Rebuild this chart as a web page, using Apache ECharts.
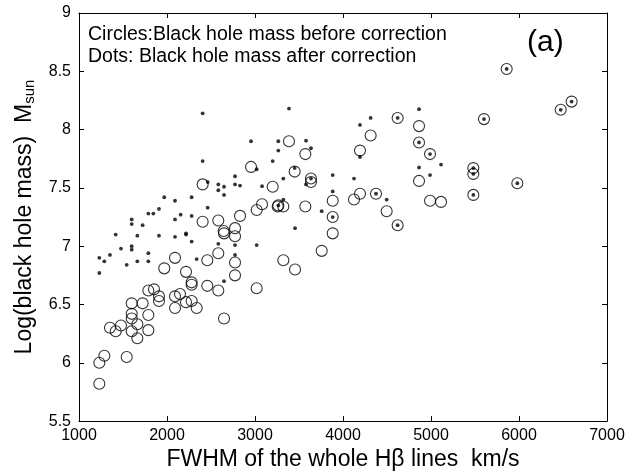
<!DOCTYPE html>
<html>
<head>
<meta charset="utf-8">
<script src="https://cdn.jsdelivr.net/npm/echarts@6/dist/echarts.min.js"></script>
<style>
html,body{margin:0;padding:0;background:#fff;}
#chart{width:631px;height:476px;}
</style>
</head>
<body>
<div id="chart"></div>
<script>
// Circles: black hole mass before correction  [FWHM km/s, log M]
const circlesBefore = [
  [1231,5.82],[1231,6.00],[1288,6.06],[1542,6.05],[1352,6.30],[1417,6.27],[1477,6.32],
  [1599,6.27],[1663,6.21],[1599,6.38],[1599,6.42],[1663,6.33],[1788,6.28],[1788,6.41],
  [1599,6.51],[1723,6.51],[1788,6.62],[1852,6.63],[1909,6.57],[1909,6.53],[1969,6.81],
  [2091,6.57],[2091,6.47],[2148,6.59],[2216,6.52],[2280,6.53],[2280,6.69],[2280,6.67],
  [2337,6.47],[2216,6.78],[2091,6.90],[2458,6.88],[2405,7.21],[2583,7.22],[2644,7.13],
  [2648,7.11],[2773,7.155],[2773,7.085],[2830,7.26],[2583,6.94],[2458,6.66],[2773,6.86],
  [2773,6.75],[2583,6.62],[3019,6.64],[2648,6.38],[3322,6.88],[3455,6.80],[3758,6.96],
  [3883,7.11],[3883,7.25],[2405,7.53],[2955,7.68],[3386,7.90],[3572,7.79],[3451,7.64],
  [3636,7.58],[3636,7.55],[3201,7.51],[3080,7.36],[3019,7.31],[3265,7.35],[3258,7.34],
  [3322,7.34],[3572,7.34],[3883,7.39],[4621,8.10],[4864,8.03],[4864,7.89],[4989,7.79],
  [4314,7.95],[4193,7.82],[4864,7.56],[5481,7.67],[5481,7.62],[5481,7.44],[4125,7.40],
  [4193,7.45],[4375,7.45],[4989,7.39],[5114,7.38],[4496,7.30],[4621,7.18],[5860,8.52],
  [5602,8.09],[6474,8.17],[6598,8.24],[5981,7.54]
];
// Dots: black hole mass after correction  [FWHM km/s, log M]
const dotsAfter = [
  [1231,6.90],[1231,6.77],[1288,6.87],[1352,6.925],[1417,7.10],[1477,6.98],[1542,6.84],
  [1599,7.23],[1599,7.19],[1599,7.00],[1599,6.97],[1663,7.09],[1663,6.87],[1723,7.18],
  [1788,7.28],[1788,6.94],[1788,6.87],[1845,7.28],[1909,7.32],[1909,7.09],[1969,7.42],
  [2091,7.39],[2091,7.23],[2091,7.08],[2155,7.27],[2216,7.11],[2216,7.10],[2280,7.42],
  [2280,7.26],[2280,7.04],[2337,6.89],[2405,8.14],[2405,7.73],[2463,7.55],[2462,7.33],
  [2583,7.53],[2583,7.48],[2583,7.02],[2648,7.51],[2648,7.44],[2648,6.70],[2773,7.60],
  [2773,7.53],[2773,7.01],[2773,6.925],[2830,7.52],[2955,7.90],[3019,7.66],[3019,7.01],
  [3080,7.515],[3201,7.73],[3265,7.90],[3265,7.82],[3265,7.35],[3322,7.58],[3322,7.40],
  [3386,8.18],[3451,7.67],[3455,7.155],[3580,7.905],[3580,7.53],[3636,7.84],[3636,7.58],
  [3758,7.30],[3883,7.61],[3883,7.47],[3883,7.25],[4125,7.58],[4193,8.04],[4193,7.765],
  [4314,8.10],[4375,7.45],[4496,7.40],[4621,8.10],[4621,7.18],[4864,8.175],[4864,7.89],
  [4864,7.675],[4989,7.79],[4989,7.61],[5114,7.70],[5481,7.67],[5481,7.62],[5481,7.44],
  [5602,8.09],[5860,8.52],[5981,7.54],[6474,8.17],[6598,8.24]
];
const xTicks = [1000, 7000, 1000];   // min, max, interval
const yTicks = [5.5, 9, 0.5];
const xTitle = 'FWHM of the whole H\u03B2 lines  km/s';
const yTitleMain = 'Log(black hole mass)  M';
const yTitleSub = 'sun';
const noteLines = ['Circles:Black hole mass before correction', 'Dots: Black hole mass after correction'];
const panelLabel = '(a)';

const FONT = 'Liberation Sans, Arial, Helvetica, sans-serif';
const chart = echarts.init(document.getElementById('chart'), null, {renderer: 'canvas'});
const axisCommon = {
  axisLine: {show: true, onZero: false, lineStyle: {color: '#000', width: 1}},
  axisTick: {show: true, inside: true, length: 5, lineStyle: {color: '#000'}},
  splitLine: {show: false}
};
chart.setOption({
  animation: false,
  backgroundColor: '#fff',
  grid: {left: 79, right: 24, top: 13, bottom: 48, containLabel: false},
  xAxis: [
    Object.assign({
      type: 'value', min: xTicks[0], max: xTicks[1], interval: xTicks[2], position: 'bottom',
      axisLabel: {color: '#000', fontSize: 16, fontFamily: FONT, margin: 6, formatter: v => String(v)},
      name: xTitle, nameLocation: 'middle', nameGap: 23,
      nameTextStyle: {color: '#000', fontSize: 23, fontFamily: FONT}
    }, axisCommon),
    Object.assign({
      type: 'value', min: xTicks[0], max: xTicks[1], interval: xTicks[2], position: 'top',
      axisLabel: {show: false}
    }, axisCommon)
  ],
  yAxis: [
    Object.assign({
      type: 'value', min: yTicks[0], max: yTicks[1], interval: yTicks[2], position: 'left',
      axisLabel: {color: '#000', fontSize: 16, fontFamily: FONT, margin: 8, formatter: v => String(v)},
      name: '{m|' + yTitleMain + '}{s|' + yTitleSub + '}',
      nameLocation: 'middle', nameGap: 40, nameRotate: 90,
      nameTextStyle: {
        color: '#000', fontSize: 23, fontFamily: FONT,
        rich: {
          m: {fontSize: 23, fontFamily: FONT, color: '#000'},
          s: {fontSize: 15, fontFamily: FONT, color: '#000', verticalAlign: 'bottom', padding: [11, 0, 0, 0]}
        }
      }
    }, axisCommon),
    Object.assign({
      type: 'value', min: yTicks[0], max: yTicks[1], interval: yTicks[2], position: 'right',
      axisLabel: {show: false}
    }, axisCommon)
  ],
  series: [
    {
      type: 'scatter', name: 'before', data: circlesBefore, symbol: 'circle', symbolSize: 11,
      itemStyle: {color: 'rgba(0,0,0,0)', borderColor: '#000', borderWidth: 1.1},
      emphasis: {disabled: true}, z: 2
    },
    {
      type: 'scatter', name: 'after', data: dotsAfter, symbol: 'circle', symbolSize: 3.8,
      itemStyle: {color: '#000'},
      emphasis: {disabled: true}, z: 3
    }
  ],
  graphic: [
    {type: 'text', left: 88, top: 25, style: {text: noteLines[0], font: '19.5px ' + FONT, fill: '#000'}},
    {type: 'text', left: 88, top: 47, style: {text: noteLines[1], font: '19.5px ' + FONT, fill: '#000'}},
    {type: 'text', left: 527, top: 28, style: {text: panelLabel, font: '30px ' + FONT, fill: '#000'}}
  ]
});
</script>
</body>
</html>
